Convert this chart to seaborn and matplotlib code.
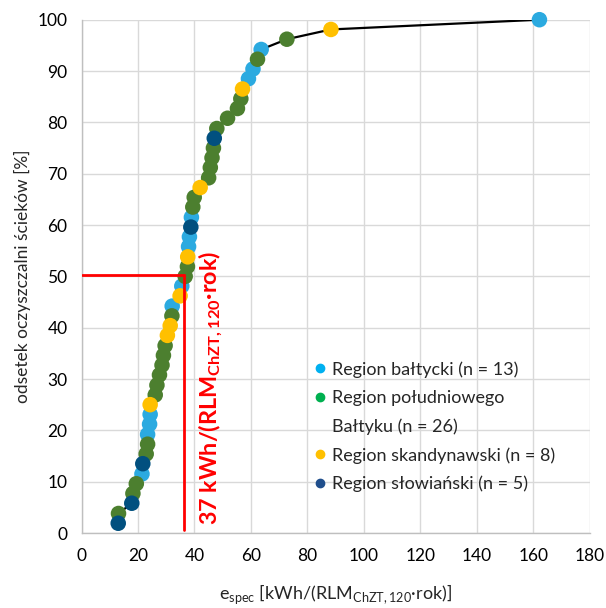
import matplotlib
matplotlib.use("Agg")
import matplotlib.pyplot as plt
import seaborn as sns
import pandas as pd
from matplotlib.lines import Line2D

# ---- data ----
e_spec = [13.0, 13.1, 17.8, 18.2, 19.4, 21.4, 21.7, 22.9, 23.4, 23.4,
          24.1, 24.3, 24.3, 26.1, 26.7, 27.6, 28.5, 29.0, 29.6, 30.4,
          31.4, 32.0, 32.1, 34.9, 35.5, 36.7, 37.5, 37.6, 37.9, 38.2,
          38.7, 38.9, 39.4, 39.9, 42.0, 45.0, 45.6, 46.2, 46.7, 47.0,
          47.9, 51.7, 55.2, 56.4, 57.0, 59.1, 60.7, 62.3, 63.6, 72.7,
          88.3, 162.1]
share = [1.9, 3.8, 5.8, 7.7, 9.6, 11.5, 13.5, 15.4, 17.3, 19.2,
         21.2, 23.1, 25.0, 26.9, 28.8, 30.8, 32.7, 34.6, 36.5, 38.5,
         40.4, 42.3, 44.2, 46.2, 48.1, 50.0, 51.9, 53.8, 55.8, 57.7,
         59.6, 61.5, 63.5, 65.4, 67.3, 69.2, 71.2, 73.1, 75.0, 76.9,
         78.8, 80.8, 82.7, 84.6, 86.5, 88.5, 90.4, 92.3, 94.2, 96.2,
         98.1, 100.0]
region = ["S", "P", "S", "P", "P", "B", "S", "P", "P", "B",
          "B", "B", "K", "P", "P", "P", "P", "P", "P", "K",
          "K", "P", "B", "K", "B", "P", "P", "K", "B", "B",
          "S", "B", "P", "P", "K", "P", "P", "P", "P", "S",
          "P", "P", "P", "P", "K", "B", "B", "P", "B", "P",
          "K", "B"]
region_order = ["B", "P", "K", "S"]
legend_labels = ["Region bałtycki (n = 13)", "Region południowego",
                 "Bałtyku (n = 26)", "Region skandynawski (n = 8)",
                 "Region słowiański (n = 5)"]
x_ticks = [0, 20, 40, 60, 80, 100, 120, 140, 160, 180]
y_ticks = [0, 10, 20, 30, 40, 50, 60, 70, 80, 90, 100]
threshold_x = 36.4
threshold_y = 50.3

marker_colors = {"B": "#2BAAE0", "P": "#4C7F2F", "K": "#FFC000", "S": "#01507F"}
legend_colors = {"B": "#00B0F0", "P": "#00B050", "K": "#FFC000", "S": "#1F4E8C"}

df = pd.DataFrame({"e_spec": e_spec, "share": share, "region": region})
df["rank"] = range(len(df))
df_draw = df.assign(o=df["region"].map({r: i for i, r in enumerate(region_order)})) \
            .sort_values(["o", "rank"])

sns.set_theme(style="white")
plt.rcParams["font.family"] = ["Lato", "DejaVu Sans"]

fig = plt.figure(figsize=(6.06, 6.08), dpi=100)
ax = fig.add_axes([81.5 / 606, 1 - 533 / 608, (590 - 81.5) / 606, (533 - 19.7) / 608])

sns.lineplot(data=df, x="e_spec", y="share", sort=False, estimator=None,
             color="black", linewidth=1.6, ax=ax, zorder=2)
sns.scatterplot(data=df_draw, x="e_spec", y="share", hue="region",
                palette=marker_colors, hue_order=region_order, s=125,
                linewidth=0, ax=ax, zorder=3, legend=False, clip_on=False)

ax.plot([0, threshold_x], [threshold_y, threshold_y], color="red", lw=2, zorder=4)
ax.plot([threshold_x, threshold_x], [0.5, threshold_y], color="red", lw=2, zorder=4)
ax.text(45.8, 1.5, "37 kWh/(RLM$_\\mathregular{ChZT,120}$·rok)", color="red",
        fontsize=16.8, fontweight="bold", rotation=90, ha="center", va="bottom",
        zorder=5)

ax.set_xlim(0, 180)
ax.set_ylim(0, 100)
ax.set_xticks(x_ticks)
ax.set_yticks(y_ticks)
ax.grid(True, color="#D9D9D9", linewidth=1.0)
ax.set_axisbelow(True)
for s in ["top", "right"]:
    ax.spines[s].set_visible(False)
for s in ["left", "bottom"]:
    ax.spines[s].set_color("#BFBFBF")
    ax.spines[s].set_linewidth(1.0)
ax.tick_params(axis="both", length=0, labelsize=12.5, colors="#000000")
ax.tick_params(axis="x", pad=11)
ax.tick_params(axis="y", pad=10)

ax.set_xlabel("e$_\\mathregular{spec}$ [kWh/(RLM$_\\mathregular{ChZT,120}$·rok)]",
              fontsize=13, labelpad=13)
ax.set_ylabel("odsetek oczyszczalni ścieków [%]", fontsize=12.5, labelpad=5)

handles = [
    Line2D([], [], marker="o", ls="", markersize=6, color=legend_colors["B"]),
    Line2D([], [], marker="o", ls="", markersize=6, color=legend_colors["P"]),
    Line2D([], [], marker="", ls=""),
    Line2D([], [], marker="o", ls="", markersize=6, color=legend_colors["K"]),
    Line2D([], [], marker="o", ls="", markersize=6, color=legend_colors["S"]),
]
ax.legend(handles, legend_labels, loc="upper left",
          bbox_to_anchor=((315 - 81.5) / 508.5, 1 - (361 - 19.7) / 513.3),
          frameon=False, fontsize=13, labelspacing=0.68, handlelength=0.5,
          handletextpad=0.45, borderpad=0, borderaxespad=0)

fig.savefig("out.png", dpi=100)
